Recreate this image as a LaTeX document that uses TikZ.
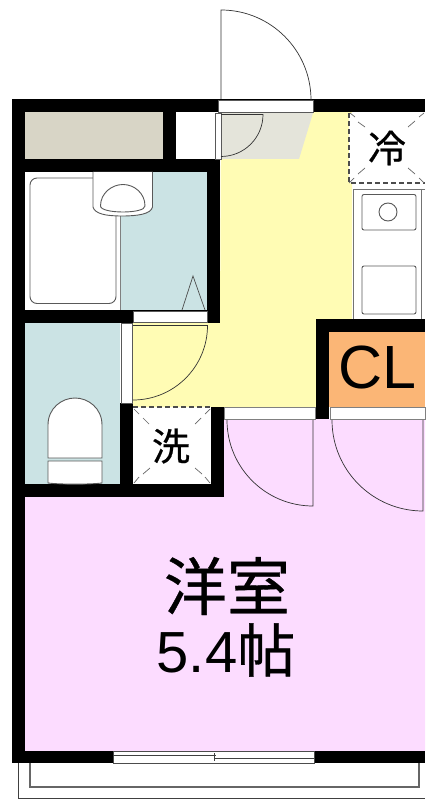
\documentclass[tikz,border=0pt]{standalone}
\usepackage{fontspec}
\setmainfont{Liberation Sans}
\newfontfamily\cjk{Noto Sans CJK JP}
\newfontfamily\cjkheavy[FakeBold=0.6]{Noto Sans CJK JP}
\definecolor{wbeige}{HTML}{D8D5C6}
\definecolor{ebeige}{HTML}{E4E4DA}
\definecolor{wblue}{HTML}{CBE3E4}
\definecolor{wyellow}{HTML}{FFFCB4}
\definecolor{wpink}{HTML}{FCDCFF}
\definecolor{worange}{HTML}{FBB676}
\tikzset{
  wall/.style={fill=black,draw=none},
  fixture/.style={draw=black!65,line width=0.9pt,fill=white},
  spot/.style={draw=black!70,dashed,dash pattern=on 5pt off 3pt,line width=1.1pt},
  tick/.style={draw=black!60,line width=0.7pt},
  doorarc/.style={draw=black!80,line width=0.7pt},
  label/.style={inner sep=0pt,text=black}
}
\begin{document}
\begin{tikzpicture}[x=1pt,y=-1pt]
\useasboundingbox (0,0) rectangle (425,799);
\fill[white] (0,0) rectangle (425,799);
% floors
\fill[wpink] (25,497) -- (224,497) -- (224,419) -- (425,419) -- (425,751) -- (25,751) -- cycle;
\fill[wyellow] (221,112) -- (352,112) -- (352,319) -- (316,319) -- (316,407) -- (133,407) -- (133,323) -- (220,323) -- cycle;
\fill[worange] (329,332) rectangle (425,407);
\fill[wbeige] (25,112) rectangle (163,159);
\fill[wblue] (120,172) rectangle (207,310);
\fill[wblue] (25,323) rectangle (120,484);
\fill[ebeige] (221,113) -- (313,113) -- (299,159) -- (220,159) -- cycle;
% balcony
\draw[draw=black!75,line width=0.8pt] (18,763) -- (18,798) -- (425,798);
\draw[draw=black!60,line width=1.1pt] (30,763) -- (30,787) -- (419,787) -- (419,763);
% walls
\fill[wall] (12,99) rectangle (425,112);
\fill[wall] (12,99) rectangle (25,763);
\fill[wall] (12,751) rectangle (425,763);
\fill[wall] (163,112) rectangle (176,172);
\fill[wall] (12,159) rectangle (220,172);
\fill[wall] (207,159) rectangle (220,323);
\fill[wall] (12,310) rectangle (220,323);
\fill[wall] (120,403) rectangle (133,497);
\fill[wall] (12,484) rectangle (224,497);
\fill[wall] (211,407) rectangle (224,497);
\fill[wall] (316,319) rectangle (329,419);
\fill[wall] (316,319) rectangle (425,332);
% openings
\fill[white] (176,113) rectangle (214,159);
\draw[fixture,line width=0.6pt] (215,113) rectangle (221,159);
\draw[fixture,line width=0.6pt] (218.5,100) rectangle (313,112);
\draw[fixture,line width=0.6pt] (133,311) rectangle (207,322);
\draw[fixture,line width=0.6pt] (121,323) rectangle (132.5,403);
\draw[fixture,draw=black!50,line width=0.6pt] (224,407) rectangle (315,419);
\draw[fixture,draw=black!50,line width=0.6pt] (330,407) rectangle (425,419);
\draw[fixture,draw=black!70,line width=0.6pt] (113,751.5) rectangle (314,763);
\draw[draw=black!75,line width=0.8pt] (113,755) -- (216,755) (214,758.5) -- (314,758.5);
\draw[draw=black!75,line width=0.8pt] (214,753) -- (214,761);
% doors
\draw[doorarc] (221,99) -- (221,10) arc[start angle=-90,end angle=0,radius=90];
\draw[doorarc] (221,114.5) -- (263,114.5) arc[start angle=0,end angle=90,radius=42];
\draw[doorarc] (133,325.5) -- (207.5,325.5) arc[start angle=0,end angle=90,radius=74.5];
\draw[doorarc] (227,420) arc[start angle=180,end angle=90,radius=86] -- (313,420);
\draw[doorarc] (332,420) arc[start angle=180,end angle=90,radius=91] -- (423,420);
% fridge space
\fill[white] (349,113) rectangle (425,183);
\draw[spot] (349,113) -- (349,183) -- (425,183);
\foreach \a/\b/\c/\d in {350/113/355/117,358/122/365/127,424/113/419/117,415/121/408/127,
  365/168/358/174,354/178/349/183,408/168/415/174,419/178/424/183}
  \draw[tick] (\a,\b) -- (\c,\d);
% washer space
\fill[white] (133.5,407.5) rectangle (211,484);
\draw[spot] (133,407) -- (211,407);
\foreach \a/\b/\c/\d in {134/409/139/414,143/418/149/424,210/409/205/414,201/418/195/424,
  150/468/143/474,139/477/134/483,195/468/202/474,205/477/210/483}
  \draw[tick] (\a,\b) -- (\c,\d);
% kitchen
\fill[white] (353,189) rectangle (425,319);
\draw[draw=black!55,line width=0.7pt] (425,189) -- (353,189) -- (353,319);
\draw[draw=black!55,line width=0.7pt] (421,189) -- (421,319);
\draw[fixture,rounded corners=2pt] (362,194.5) rectangle (416,230);
\draw[fixture] (388,212) circle[radius=9];
\draw[fixture,rounded corners=2pt] (362,266) rectangle (416,314);
% bath
\fill[white] (25,172) rectangle (120,310);
\draw[draw=black!50,line width=0.7pt] (120.5,172) -- (120.5,310);
\draw[fixture,rounded corners=7pt] (30,178) rectangle (116,303.5);
\draw[fixture] (93,172) -- (93,207) .. controls (95,214) and (106,216) .. (122,216) .. controls (138,216) and (151,214) .. (152.5,207) -- (152.5,172);
\draw[fixture] (100.5,206) .. controls (100.5,193) and (112,184.5) .. (123,184.5) .. controls (134,184.5) and (145,193) .. (145,206) .. controls (145,210) and (134,212) .. (123,212) .. controls (112,212) and (100.5,210) .. (100.5,206) -- cycle;
\draw[draw=black!70,line width=0.7pt] (182,310) -- (193,276) -- (205,310);
% toilet
\draw[fixture] (48,458) -- (48,425) .. controls (48,408) and (62,398) .. (75,398) .. controls (88,398) and (102,408) .. (102,425) -- (102,458) -- cycle;
\draw[fixture] (48,483) -- (48,461) -- (102,461) -- (102,483) .. controls (90,484.5) and (60,484.5) .. (48,483) -- cycle;
% labels
\node[label,font=\cjkheavy\fontsize{38}{38}\selectfont] (fridge) at (387,148) {冷};
\node[label,font=\cjkheavy\fontsize{38}{38}\selectfont] (washer) at (171,446) {洗};
\node[label,font=\fontsize{61}{61}\selectfont] (cl) at (377,367) {CL};
\node[label,font=\cjkheavy\fontsize{63}{63}\selectfont] (room) at (227,586) {洋室};
\node[label,font=\fontsize{58}{58}\selectfont] (size) at (226,650) {5.4{\cjkheavy 帖}};
\end{tikzpicture}
\end{document}
